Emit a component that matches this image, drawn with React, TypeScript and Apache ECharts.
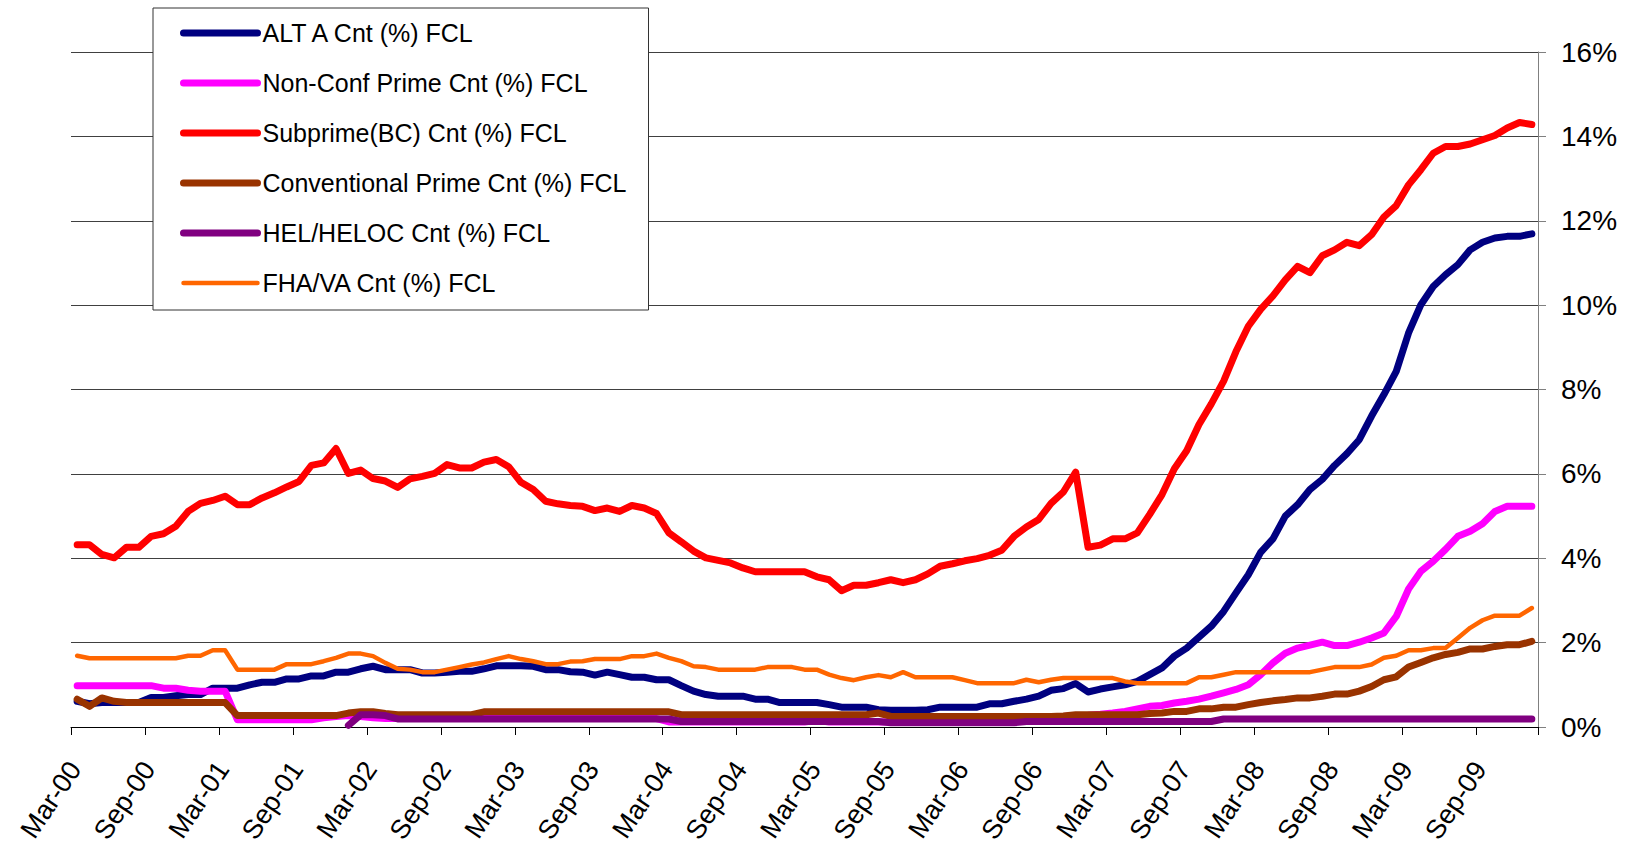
import React, { useEffect, useRef } from "react";
import * as echarts from "echarts";

// Monthly periods, Mar-00 through Jan-10
const MONTH_NAMES = ["Jan", "Feb", "Mar", "Apr", "May", "Jun", "Jul", "Aug", "Sep", "Oct", "Nov", "Dec"];
const START_MONTH = 2; // March
const START_YEAR = 2000;
const PERIOD_COUNT = 119;
const months: string[] = [];
for (let k = 0; k < PERIOD_COUNT; k++) {
  const m = (START_MONTH + k) % 12;
  const y = START_YEAR + Math.floor((START_MONTH + k) / 12);
  months.push(`${MONTH_NAMES[m]}-${String(y % 100).padStart(2, "0")}`);
}

const seriesNames = [
  "ALT A Cnt (%) FCL",
  "Non-Conf Prime Cnt (%) FCL",
  "Subprime(BC) Cnt (%) FCL",
  "Conventional Prime Cnt (%) FCL",
  "HEL/HELOC Cnt (%) FCL",
  "FHA/VA Cnt (%) FCL",
];

const altA = [
  0.61, 0.55, 0.58, 0.58, 0.58, 0.58, 0.70, 0.70, 0.74, 0.77, 0.77, 0.92, 0.92, 0.92, 1.00, 1.06, 1.06, 1.14, 1.14, 1.21,
  1.21, 1.30, 1.30, 1.38, 1.44, 1.36, 1.36, 1.36, 1.28, 1.28, 1.30, 1.32, 1.32, 1.38, 1.45, 1.45, 1.45, 1.44, 1.36, 1.36,
  1.31, 1.30, 1.23, 1.30, 1.24, 1.18, 1.18, 1.12, 1.12, 0.98, 0.85, 0.77, 0.73, 0.73, 0.73, 0.66, 0.66, 0.58, 0.58, 0.58,
  0.58, 0.53, 0.47, 0.47, 0.47, 0.41, 0.40, 0.40, 0.40, 0.41, 0.47, 0.47, 0.47, 0.47, 0.55, 0.55, 0.61, 0.66, 0.73, 0.87,
  0.91, 1.03, 0.83, 0.90, 0.95, 1.00, 1.08, 1.24, 1.40, 1.68, 1.87, 2.13, 2.39, 2.74, 3.18, 3.61, 4.14, 4.46, 5.00, 5.27,
  5.63, 5.87, 6.20, 6.48, 6.81, 7.37, 7.88, 8.43, 9.34, 10.01, 10.44, 10.72, 10.96, 11.31, 11.49, 11.59, 11.63, 11.63, 11.69,
];

const nonConfPrime = [
  0.98, 0.98, 0.98, 0.98, 0.98, 0.98, 0.98, 0.92, 0.92, 0.87, 0.85, 0.85, 0.85, 0.17, 0.17, 0.17, 0.17, 0.17, 0.17, 0.17,
  0.22, 0.25, 0.27, 0.25, 0.22, 0.20, 0.20, 0.20, 0.20, 0.20, 0.20, 0.20, 0.20, 0.20, 0.20, 0.20, 0.20, 0.20, 0.20, 0.20,
  0.20, 0.20, 0.20, 0.20, 0.20, 0.20, 0.20, 0.20, 0.12, 0.12, 0.12, 0.12, 0.12, 0.12, 0.12, 0.12, 0.12, 0.12, 0.12, 0.12,
  0.16, 0.12, 0.12, 0.12, 0.12, 0.12, 0.12, 0.12, 0.12, 0.12, 0.12, 0.12, 0.12, 0.12, 0.12, 0.12, 0.12, 0.18, 0.20, 0.22,
  0.25, 0.27, 0.28, 0.30, 0.33, 0.37, 0.43, 0.49, 0.51, 0.57, 0.61, 0.66, 0.73, 0.81, 0.89, 1.00, 1.24, 1.52, 1.75, 1.87,
  1.94, 2.01, 1.93, 1.93, 2.01, 2.11, 2.23, 2.62, 3.27, 3.69, 3.93, 4.21, 4.52, 4.64, 4.82, 5.11, 5.23, 5.23, 5.23,
];

const subprime = [
  4.32, 4.32, 4.09, 4.01, 4.26, 4.26, 4.52, 4.58, 4.76, 5.11, 5.30, 5.37, 5.47, 5.27, 5.27, 5.43, 5.55, 5.69, 5.82, 6.20,
  6.26, 6.60, 6.01, 6.09, 5.89, 5.83, 5.68, 5.88, 5.94, 6.01, 6.22, 6.14, 6.14, 6.28, 6.34, 6.17, 5.80, 5.63, 5.35, 5.29,
  5.25, 5.23, 5.13, 5.19, 5.11, 5.25, 5.19, 5.06, 4.60, 4.39, 4.17, 4.01, 3.95, 3.89, 3.77, 3.68, 3.68, 3.68, 3.68, 3.68,
  3.56, 3.49, 3.23, 3.36, 3.36, 3.42, 3.49, 3.42, 3.49, 3.63, 3.81, 3.87, 3.94, 3.99, 4.07, 4.19, 4.52, 4.74, 4.92, 5.30,
  5.57, 6.04, 4.26, 4.31, 4.46, 4.46, 4.60, 5.04, 5.51, 6.12, 6.55, 7.17, 7.66, 8.20, 8.90, 9.50, 9.90, 10.22, 10.60, 10.92,
  10.77, 11.17, 11.31, 11.49, 11.41, 11.67, 12.09, 12.36, 12.85, 13.21, 13.60, 13.76, 13.76, 13.82, 13.92, 14.02, 14.20, 14.33, 14.28,
];

const conventionalPrime = [
  0.66, 0.49, 0.69, 0.61, 0.58, 0.58, 0.58, 0.58, 0.58, 0.58, 0.58, 0.58, 0.58, 0.27, 0.27, 0.27, 0.27, 0.27, 0.27, 0.27,
  0.27, 0.27, 0.33, 0.36, 0.36, 0.32, 0.29, 0.29, 0.29, 0.29, 0.29, 0.29, 0.29, 0.36, 0.36, 0.36, 0.36, 0.36, 0.36, 0.36,
  0.36, 0.36, 0.36, 0.36, 0.36, 0.36, 0.36, 0.36, 0.36, 0.29, 0.29, 0.29, 0.29, 0.29, 0.29, 0.29, 0.29, 0.29, 0.29, 0.29,
  0.29, 0.29, 0.29, 0.29, 0.29, 0.33, 0.25, 0.25, 0.25, 0.25, 0.25, 0.25, 0.25, 0.25, 0.25, 0.25, 0.25, 0.25, 0.25, 0.25,
  0.26, 0.29, 0.29, 0.29, 0.29, 0.29, 0.29, 0.32, 0.33, 0.37, 0.37, 0.43, 0.43, 0.47, 0.47, 0.53, 0.58, 0.62, 0.65, 0.69,
  0.69, 0.73, 0.78, 0.78, 0.85, 0.96, 1.12, 1.19, 1.42, 1.53, 1.64, 1.72, 1.77, 1.85, 1.85, 1.91, 1.95, 1.95, 2.03,
];

// HEL/HELOC reporting begins in early 2002
const helHeloc = [
  null, null, null, null, null, null, null, null, null, null, null, null, null, null, null, null, null, null, null, null,
  null, null, 0.04, 0.29, 0.29, 0.27, 0.19, 0.19, 0.19, 0.19, 0.19, 0.19, 0.19, 0.19, 0.19, 0.19, 0.19, 0.19, 0.19, 0.19,
  0.19, 0.19, 0.19, 0.19, 0.19, 0.19, 0.19, 0.19, 0.19, 0.13, 0.13, 0.13, 0.13, 0.13, 0.13, 0.13, 0.13, 0.13, 0.13, 0.13,
  0.13, 0.13, 0.13, 0.13, 0.13, 0.13, 0.10, 0.10, 0.10, 0.10, 0.10, 0.10, 0.10, 0.10, 0.10, 0.10, 0.10, 0.13, 0.13, 0.13,
  0.13, 0.13, 0.13, 0.13, 0.13, 0.13, 0.13, 0.13, 0.13, 0.13, 0.13, 0.13, 0.13, 0.19, 0.19, 0.19, 0.19, 0.19, 0.19, 0.19,
  0.19, 0.19, 0.19, 0.19, 0.19, 0.19, 0.19, 0.19, 0.19, 0.19, 0.19, 0.19, 0.19, 0.19, 0.19, 0.19, 0.19, 0.19, 0.19,
];

const fhaVa = [
  1.69, 1.63, 1.63, 1.63, 1.63, 1.63, 1.63, 1.63, 1.63, 1.69, 1.69, 1.82, 1.82, 1.36, 1.36, 1.36, 1.36, 1.49, 1.49, 1.49,
  1.56, 1.64, 1.74, 1.74, 1.68, 1.52, 1.38, 1.36, 1.30, 1.30, 1.36, 1.42, 1.48, 1.53, 1.61, 1.68, 1.61, 1.56, 1.49, 1.49,
  1.55, 1.56, 1.61, 1.61, 1.61, 1.68, 1.68, 1.74, 1.64, 1.56, 1.44, 1.42, 1.36, 1.36, 1.36, 1.36, 1.42, 1.42, 1.42, 1.36,
  1.36, 1.24, 1.16, 1.11, 1.18, 1.23, 1.18, 1.30, 1.18, 1.18, 1.18, 1.18, 1.11, 1.04, 1.04, 1.04, 1.04, 1.12, 1.06, 1.12,
  1.16, 1.16, 1.16, 1.16, 1.16, 1.08, 1.04, 1.04, 1.04, 1.04, 1.04, 1.18, 1.18, 1.24, 1.30, 1.30, 1.30, 1.30, 1.30, 1.30,
  1.30, 1.36, 1.42, 1.42, 1.42, 1.48, 1.64, 1.69, 1.82, 1.82, 1.87, 1.87, 2.11, 2.35, 2.53, 2.64, 2.64, 2.64, 2.82,
];

const seriesData = [altA, nonConfPrime, subprime, conventionalPrime, helHeloc, fhaVa];
const seriesColors = ["#000080", "#FF00FF", "#FF0000", "#993300", "#800080", "#FF6600"];
const seriesWidths = [7, 7, 7, 7, 7, 4.5];

const FONT = "'Liberation Sans', Arial, Helvetica, sans-serif";

export default function App() {
  const ref = useRef<HTMLDivElement>(null);

  useEffect(() => {
    if (!ref.current) return;
    const chart = echarts.init(ref.current, undefined, { renderer: "svg" });

    chart.setOption({
      animation: false,
      backgroundColor: "#ffffff",
      textStyle: { fontFamily: FONT },
      grid: {
        left: 71,
        right: 91,
        top: 52,
        bottom: 122,
        containLabel: false,
        outerBoundsMode: "none",
      },
      legend: {
        orient: "vertical",
        left: 153,
        top: 8,
        padding: [10, 22, 12, 27],
        backgroundColor: "#ffffff",
        borderColor: "#333333",
        borderWidth: 1,
        itemWidth: 74,
        itemHeight: 10,
        itemGap: 20,
        selectedMode: false,
        textStyle: { fontSize: 25, color: "#000000", fontFamily: FONT, lineHeight: 30 },
        lineStyle: { width: "inherit", cap: "round" },
        itemStyle: { opacity: 0 },
        data: seriesNames,
      },
      xAxis: {
        type: "category",
        data: months,
        boundaryGap: true,
        axisLine: { show: true, lineStyle: { color: "#000000", width: 1 } },
        axisTick: { show: true, interval: 5, length: 8, lineStyle: { color: "#000000", width: 1 } },
        axisLabel: {
          interval: 5,
          rotate: 56,
          margin: 34,
          padding: [0, 4, 12, 0],
          fontSize: 27,
          color: "#000000",
          fontFamily: FONT,
        },
        splitLine: { show: false },
      },
      yAxis: {
        type: "value",
        position: "right",
        min: 0,
        max: 16,
        interval: 2,
        axisLine: { show: true, lineStyle: { color: "#808080", width: 1 } },
        axisTick: { show: true, length: 8, lineStyle: { color: "#808080", width: 1 } },
        axisLabel: {
          formatter: "{value}%",
          fontSize: 28,
          color: "#000000",
          margin: 23,
          fontFamily: FONT,
        },
        splitLine: { show: true, lineStyle: { color: "#404040", width: 1 } },
      },
      series: seriesNames.map((name, i) => ({
        name,
        type: "line",
        data: seriesData[i],
        symbol: "none",
        showSymbol: false,
        connectNulls: false,
        color: seriesColors[i],
        lineStyle: { color: seriesColors[i], width: seriesWidths[i], cap: "round", join: "round" },
        emphasis: { disabled: true },
      })),
    });

    return () => chart.dispose();
  }, []);

  return (
    <div
      ref={ref}
      style={{ position: "fixed", left: 0, top: 0, width: 1629, height: 849, background: "#fff" }}
    />
  );
}
